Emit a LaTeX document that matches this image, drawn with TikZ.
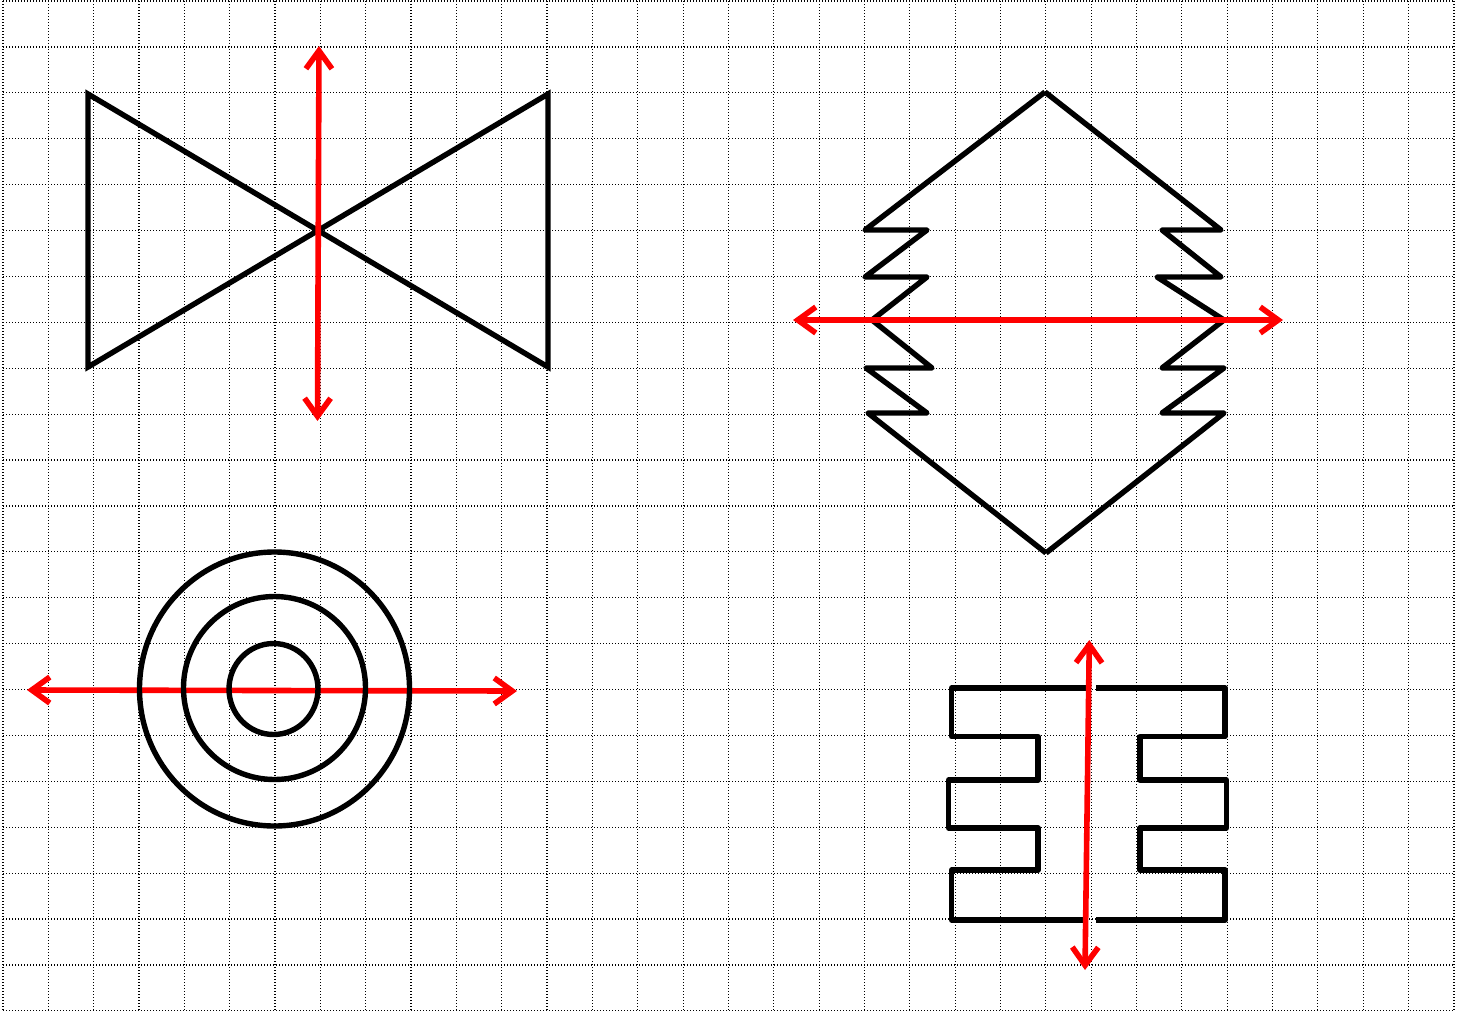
\documentclass[tikz,border=0pt]{standalone}
\usetikzlibrary{arrows.meta}
\begin{document}
\begin{tikzpicture}[x=0.5pt,y=-0.5pt,
  gridline/.style={line width=0.6pt, black, dash pattern=on 0.6pt off 0.9pt},
  outline/.style={black, line width=2.7pt},
  redarrow/.style={red, line width=2.8pt, {Straight Barb[length=9pt,width=13pt]}-{Straight Barb[length=9pt,width=13pt]}}]
\useasboundingbox (0,0) rectangle (1471,1017);
\fill[white] (0,0) rectangle (1471,1017);
% grid
\foreach \k in {0,...,32} \draw[gridline] ({3+45.34*\k},1) -- ({3+45.34*\k},1011);
\foreach \k in {0,...,22} \draw[gridline] (3,{1+45.9*\k}) -- (1454,{1+45.9*\k});

% bow tie
\draw[outline] (88,94) -- (548,367) -- (548,94) -- (88,367) -- cycle;
\coordinate (a1s) at (319,46);
\coordinate (a1e) at (317.5,421);
\draw[redarrow] (a1s) -- (a1e);

% zigzag diamond
\draw[outline, line join=round] (1045,92) -- (865,230) -- (927,230) -- (865,277) -- (927,277) -- (872,320)
  -- (932,368) -- (866,368) -- (927,413) -- (868,413) -- (1046,553);
\draw[outline, line join=round] (1045,92) -- (1221,230) -- (1162,230) -- (1221,277) -- (1157,277) -- (1224,320)
  -- (1162,368) -- (1224,368) -- (1162,413) -- (1224,413) -- (1046,553);
\coordinate (a2s) at (793,320);
\coordinate (a2e) at (1283,320);
\draw[redarrow] (a2s) -- (a2e);

% circles
\coordinate (a3s) at (27,690);
\coordinate (a3e) at (517,691);
\draw[redarrow] (a3s) -- (a3e);
\draw[outline] (274.5,689) ellipse [x radius=67.5pt, y radius=68.5pt];
\draw[outline] (274.5,688) ellipse [x radius=45.5pt, y radius=45.75pt];
\draw[outline] (273.5,689) ellipse [x radius=22.25pt, y radius=22.75pt];

% E shapes
\draw[outline, line join=round] (1088,688) -- (951.7,688) -- (951.7,736.7) -- (1038,736.7) -- (1038,780) -- (948.5,780)
  -- (948.5,828) -- (1038,828) -- (1038,870) -- (951.7,870) -- (951.7,920) -- (1087,920);
\draw[outline, line join=round] (1096,688) -- (1225,688) -- (1225,736.7) -- (1140,736.7) -- (1140,780) -- (1226.5,780)
  -- (1226.5,828) -- (1140,828) -- (1140,870) -- (1225,870) -- (1225,920) -- (1096,920);
\coordinate (a4s) at (1089.3,640);
\coordinate (a4e) at (1085,970);
\draw[redarrow] (a4s) -- (a4e);
\end{tikzpicture}
\end{document}
